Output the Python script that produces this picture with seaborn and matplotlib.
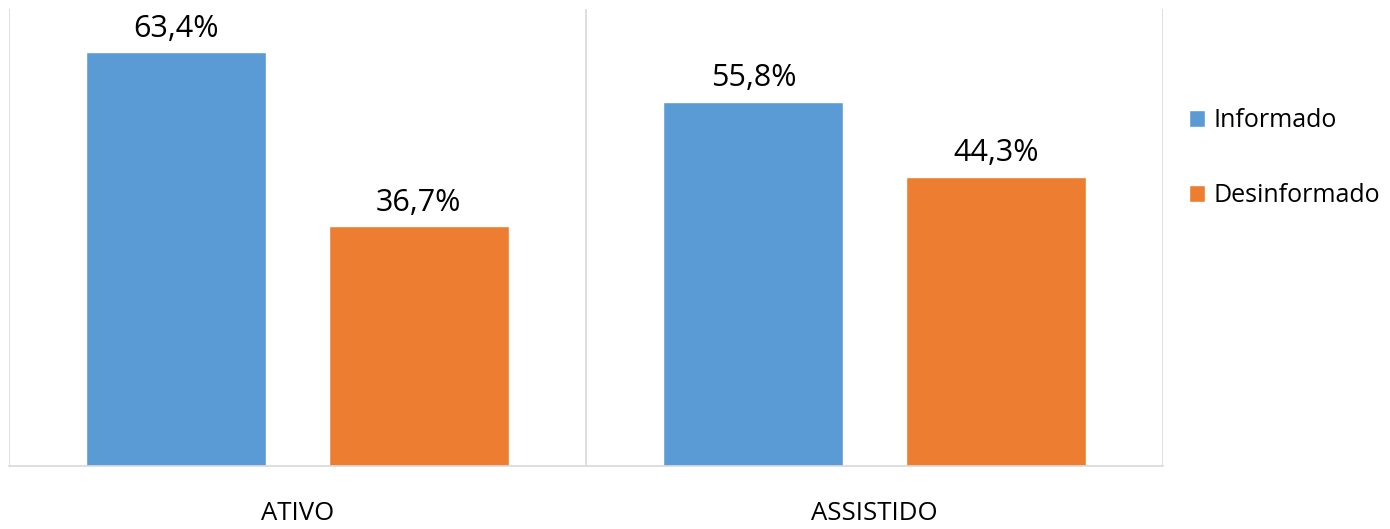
import matplotlib
matplotlib.use("Agg")
import matplotlib.pyplot as plt
import seaborn as sns
import pandas as pd

categories = ["ATIVO", "ASSISTIDO"]
series = ["Informado", "Desinformado"]
informado = [63.4, 55.8]
desinformado = [36.7, 44.3]
colors = ["#5B9BD5", "#ED7D31"]

df = pd.DataFrame({
    "categoria": categories * 2,
    "serie": [series[0]] * 2 + [series[1]] * 2,
    "valor": informado + desinformado,
})

sns.set_theme(style="white")
plt.rcParams["font.family"] = ["Open Sans", "DejaVu Sans"]

fig = plt.figure(figsize=(13.9, 5.29), dpi=100)
ax = fig.add_axes([9 / 1390, 63 / 529, 1154 / 1390, 457 / 529])

sns.barplot(data=df, x="categoria", y="valor", hue="serie", order=categories,
            hue_order=series, palette=colors, width=0.84, gap=0.257,
            saturation=1, ax=ax, legend=True)

for cont in ax.containers:
    ax.bar_label(cont, labels=[f"{v:.1f}".replace(".", ",") + "%" for v in cont.datavalues],
                 padding=6, fontsize=22, color="#000000")

ax.set_ylim(0, 70)
ax.set_xlim(-0.5, 1.5)
ax.set_yticks([])
ax.set_xlabel("")
ax.set_ylabel("")
ax.set_xticks([-0.5, 0.5, 1.5], minor=True)
ax.grid(False)
ax.grid(True, which="minor", axis="x", color="#D9D9D9", linewidth=1.2)
ax.tick_params(axis="x", which="major", length=0, pad=25, labelsize=18.5, labelcolor="#000000")
ax.tick_params(axis="x", which="minor", length=0)
for s in ["left", "right", "top"]:
    ax.spines[s].set_visible(False)
ax.spines["bottom"].set_color("#D9D9D9")
ax.spines["bottom"].set_linewidth(1.2)

handles, labels = ax.get_legend_handles_labels()
ax.get_legend().remove()
fig.legend(handles, labels, loc="upper left", bbox_to_anchor=(1189 / 1390, 1 - 108 / 529),
           frameon=False, fontsize=18, labelcolor="#000000", handlelength=0.65, handleheight=0.65,
           handletextpad=0.35, labelspacing=2.0, borderpad=0, borderaxespad=0)

fig.savefig("out.png", dpi=100, facecolor="white")
